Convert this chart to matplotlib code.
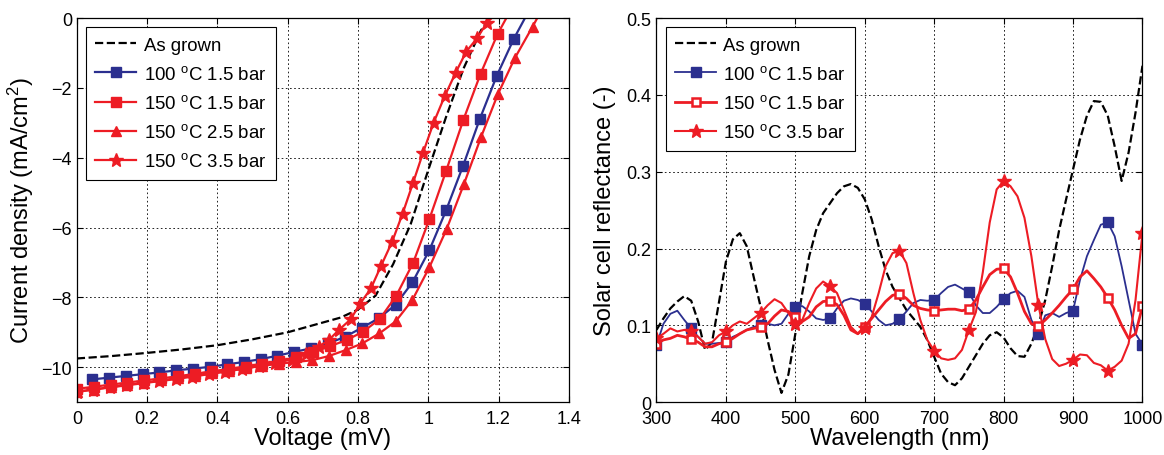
import numpy as np
import matplotlib
matplotlib.use('Agg')
import matplotlib.pyplot as plt
from matplotlib.ticker import FuncFormatter

plt.rcParams['font.family'] = ['Liberation Sans', 'DejaVu Sans']
plt.rcParams['mathtext.fontset'] = 'custom'
plt.rcParams['mathtext.rm'] = 'Liberation Sans'
plt.rcParams['mathtext.it'] = 'Liberation Sans:italic'

BLUE = '#2b2f8f'
RED = '#ed1c24'

# ---- left panel: J-V curves ----
v_grown = [0.0, 0.1, 0.2, 0.3, 0.4, 0.5, 0.6, 0.7, 0.75, 0.8, 0.85, 0.9, 0.95,
           1.0, 1.05, 1.1, 1.15, 1.175]
j_grown = [-9.75, -9.68, -9.59, -9.49, -9.37, -9.20, -9.00, -8.72, -8.58, -8.35,
           -7.95, -7.05, -5.90, -4.35, -2.85, -1.45, -0.35, 0.0]

v_100_15 = [0.043, 0.091, 0.139, 0.187, 0.235, 0.283, 0.331, 0.379, 0.427, 0.475,
            0.523, 0.571, 0.619, 0.667, 0.715, 0.763, 0.811, 0.859, 0.907, 0.955,
            1.003, 1.051, 1.099, 1.147, 1.195, 1.243, 1.275]
j_100_15 = [-10.35, -10.30, -10.25, -10.20, -10.15, -10.09, -10.04, -9.99, -9.92, -9.85,
            -9.77, -9.67, -9.56, -9.46, -9.32, -9.13, -8.87, -8.60, -8.21, -7.57,
            -6.65, -5.50, -4.23, -2.88, -1.65, -0.60, 0.0]

v_150_15 = [0.0, 0.048, 0.096, 0.144, 0.192, 0.240, 0.288, 0.336, 0.384, 0.432,
            0.480, 0.528, 0.576, 0.624, 0.672, 0.720, 0.768, 0.815, 0.862, 0.909,
            0.957, 1.003, 1.051, 1.100, 1.149, 1.197, 1.222]
j_150_15 = [-10.62, -10.56, -10.50, -10.44, -10.38, -10.32, -10.26, -10.19, -10.12, -10.05,
            -9.98, -9.90, -9.82, -9.72, -9.57, -9.40, -9.22, -8.98, -8.62, -7.95,
            -7.01, -5.76, -4.37, -2.91, -1.59, -0.46, 0.0]

v_150_25 = [0.0, 0.048, 0.096, 0.144, 0.192, 0.240, 0.288, 0.336, 0.384, 0.432,
            0.480, 0.528, 0.576, 0.624, 0.670, 0.717, 0.765, 0.812, 0.861, 0.907,
            0.955, 1.003, 1.052, 1.102, 1.150, 1.198, 1.246, 1.297, 1.31]
j_150_25 = [-10.70, -10.64, -10.57, -10.50, -10.44, -10.38, -10.31, -10.24, -10.17, -10.10,
            -10.03, -9.96, -9.90, -9.85, -9.80, -9.68, -9.51, -9.32, -9.03, -8.69,
            -8.07, -7.14, -6.05, -4.74, -3.41, -2.18, -1.15, -0.24, 0.0]

v_150_35 = [0.0, 0.047, 0.094, 0.141, 0.188, 0.235, 0.282, 0.329, 0.376, 0.423,
            0.470, 0.517, 0.564, 0.611, 0.652, 0.688, 0.717, 0.746, 0.779, 0.806,
            0.837, 0.865, 0.897, 0.927, 0.957, 0.985, 1.015, 1.047, 1.078, 1.108,
            1.140, 1.166, 1.18]
j_150_35 = [-10.71, -10.64, -10.58, -10.52, -10.46, -10.40, -10.34, -10.27, -10.20, -10.13,
            -10.05, -9.97, -9.88, -9.78, -9.62, -9.41, -9.22, -8.93, -8.63, -8.18,
            -7.74, -7.11, -6.41, -5.60, -4.71, -3.86, -3.00, -2.23, -1.56, -0.96,
            -0.56, -0.14, 0.0]

# ---- right panel: reflectance ----
wl = np.arange(300, 1001, 10)
r_grown = [.094, .109, .122, .131, .138, .132, .105, .068, .078, .130,
           .183, .212, .220, .203, .163, .124, .081, .042, .012, .036,
           .089, .142, .190, .224, .246, .259, .272, .281, .284, .279,
           .264, .238, .203, .172, .150, .135, .120, .109, .098, .081,
           .059, .037, .026, .022, .031, .046, .061, .076, .087, .091,
           .084, .070, .060, .059, .076, .100, .133, .177, .224, .264,
           .303, .342, .373, .392, .391, .373, .333, .288, .325, .377, .438]
r_100_15 = [.074, .102, .115, .119, .107, .096, .085, .076, .076, .077,
            .078, .085, .089, .094, .098, .100, .102, .100, .102, .115,
            .124, .125, .118, .109, .107, .109, .122, .132, .135, .133,
            .128, .118, .107, .100, .102, .108, .118, .129, .133, .132,
            .133, .142, .150, .153, .148, .143, .126, .116, .116, .124,
            .134, .142, .145, .137, .107, .089, .113, .116, .111, .116,
            .119, .159, .190, .211, .231, .234, .216, .177, .133, .089, .075]
r_150_15 = [.076, .081, .083, .087, .085, .082, .078, .072, .072, .076,
            .078, .083, .089, .094, .096, .098, .102, .112, .120, .118,
            .111, .105, .111, .124, .131, .132, .127, .113, .094, .089,
            .098, .109, .120, .131, .139, .141, .135, .126, .122, .120,
            .119, .120, .121, .121, .119, .121, .133, .150, .166, .173,
            .174, .163, .142, .118, .102, .099, .107, .116, .126, .137,
            .147, .163, .171, .161, .150, .136, .120, .100, .083, .089, .125]
r_150_35 = [.083, .089, .096, .092, .094, .092, .085, .076, .078, .087,
            .092, .100, .105, .102, .109, .116, .126, .134, .129, .116,
            .102, .107, .129, .148, .157, .151, .142, .120, .098, .089,
            .096, .111, .142, .177, .194, .197, .181, .142, .107, .081,
            .067, .057, .055, .057, .068, .094, .117, .169, .234, .277,
            .288, .281, .268, .240, .190, .127, .082, .056, .047, .050,
            .055, .062, .061, .051, .048, .041, .046, .054, .076, .133, .220]

labels = ['As grown', '100 $^{\\rm o}$C 1.5 bar', '150 $^{\\rm o}$C 1.5 bar',
          '150 $^{\\rm o}$C 2.5 bar', '150 $^{\\rm o}$C 3.5 bar']

fig = plt.figure(figsize=(11.64, 4.56), dpi=100)
ax1 = fig.add_axes([0.066, 0.116, 0.4227, 0.842])
ax2 = fig.add_axes([0.564, 0.116, 0.4175, 0.842])


def style_axes(ax):
    ax.grid(True, color='black', linestyle=(0, (2, 3)), linewidth=0.6)
    ax.tick_params(direction='in', top=True, right=True, length=4,
                   labelsize=13, width=0.8)
    ax.tick_params(axis='x', pad=6)
    for s in ax.spines.values():
        s.set_linewidth(0.9)
    ax.set_axisbelow(True)


def add_legend(ax):
    leg = ax.legend(loc='upper left', fontsize=13.4, frameon=True, fancybox=False,
                    edgecolor='black', framealpha=1, handlelength=2.2,
                    borderaxespad=0.5, labelspacing=0.6, handletextpad=0.4,
                    borderpad=0.5)
    leg.get_frame().set_linewidth(0.8)


def last_off(n):
    return list(range(n - 1))


ax1.plot(v_grown, j_grown, '--', color='black', lw=1.6, label=labels[0])
ax1.plot(v_100_15, j_100_15, '-s', color=BLUE, lw=1.6, ms=6.5,
         markevery=last_off(len(v_100_15)), label=labels[1])
ax1.plot(v_150_15, j_150_15, '-s', color=RED, lw=1.6, ms=6.5,
         markevery=last_off(len(v_150_15)), label=labels[2])
ax1.plot(v_150_25, j_150_25, '-^', color=RED, lw=1.6, ms=7.5,
         markevery=last_off(len(v_150_25)), label=labels[3])
ax1.plot(v_150_35, j_150_35, '-*', color=RED, lw=1.6, ms=10,
         markevery=last_off(len(v_150_35)), label=labels[4])

ax1.set_xlim(0, 1.4)
ax1.set_ylim(-11, 0)
ax1.set_xticks(np.arange(0, 1.41, 0.2))
ax1.set_yticks([-10, -8, -6, -4, -2, 0])
ax1.xaxis.set_major_formatter(FuncFormatter(lambda x, p: '%g' % round(x, 2)))
ax1.set_xlabel('Voltage (mV)', fontsize=17, labelpad=0)
ax1.set_ylabel('Current density (mA/cm$^2$)', fontsize=17, labelpad=4)
style_axes(ax1)
add_legend(ax1)

mk = slice(0, None, 5)
ax2.plot(wl, r_grown, '--', color='black', lw=1.6, label=labels[0])
ax2.plot(wl, r_100_15, '-s', color=BLUE, lw=1.3, ms=6.5, markevery=mk,
         label=labels[1])
ax2.plot(wl, r_150_15, '-s', color=RED, lw=2.0, ms=5.5, markevery=mk,
         markerfacecolor='white', markeredgewidth=1.8, label=labels[2])
ax2.plot(wl, r_150_35, '-*', color=RED, lw=1.5, ms=10, markevery=mk,
         label=labels[4])

ax2.set_xlim(300, 1000)
ax2.set_ylim(0, 0.5)
ax2.set_xticks(np.arange(300, 1001, 100))
ax2.set_yticks(np.arange(0, 0.51, 0.1))
ax2.yaxis.set_major_formatter(FuncFormatter(lambda y, p: '%g' % round(y, 2)))
ax2.set_xlabel('Wavelength (nm)', fontsize=17, labelpad=0)
ax2.set_ylabel('Solar cell reflectance (-)', fontsize=17, labelpad=8)
style_axes(ax2)
add_legend(ax2)

fig.savefig('out.png', dpi=100)
